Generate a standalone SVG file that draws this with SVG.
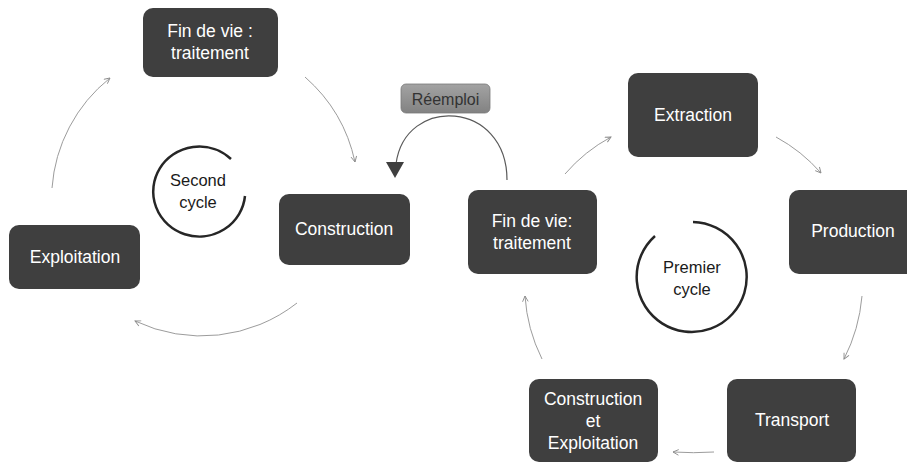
<svg xmlns="http://www.w3.org/2000/svg" width="907" height="464" viewBox="0 0 907 464">
<style>
.node{fill:#3f3f3f}
.nt{fill:#ffffff;font-family:"Liberation Sans",Arial,sans-serif;font-size:17.5px;text-anchor:middle}
.ct{fill:#1a1a1a;font-family:"Liberation Sans",Arial,sans-serif;font-size:16.5px;text-anchor:middle}
.conn{fill:none;stroke:#9c9c9c;stroke-width:1;marker-end:url(#open)}
.cyc{fill:none;stroke:#262626;stroke-width:2.5}
</style>
<defs>
<marker id="open" viewBox="0 0 10 10" refX="9" refY="5" markerWidth="7" markerHeight="7" markerUnits="userSpaceOnUse" orient="auto">
<path d="M1 1 L9 5 L1 9" fill="none" stroke="#8c8c8c" stroke-width="1.3"/>
</marker>
<linearGradient id="rg" x1="0" y1="0" x2="0" y2="1">
<stop offset="0" stop-color="#a3a3a3"/>
<stop offset="1" stop-color="#828282"/>
</linearGradient>
</defs>

<g id="connectors">
<path class="conn" d="M305 77 A157 157 0 0 1 355 162"/>
<path class="conn" d="M297 303 A155 155 0 0 1 135 321"/>
<path class="conn" d="M52 188 A155 155 0 0 1 110 78"/>
<path class="conn" d="M565 174 A162 162 0 0 1 611 137"/>
<path class="conn" d="M776 137 A163 163 0 0 1 821 173"/>
<path class="conn" d="M862 296 A170 170 0 0 1 844 359"/>
<path class="conn" d="M714 452 A300 300 0 0 1 673 452"/>
<path class="conn" d="M542 359 A165 165 0 0 1 525 296"/>
<path d="M507 180 C507 100 405 95 396 164" fill="none" stroke="#5a5a5a" stroke-width="1.2"/>
<polygon points="386,162 404,162 395,178" fill="#3f3f3f"/>
</g>

<g id="second-cycle">
<path class="cyc" d="M245 196 A46 45 0 1 1 231 159"/>
<text class="ct" x="198" y="186">Second</text>
<text class="ct" x="198" y="208">cycle</text>
</g>

<g id="premier-cycle">
<path class="cyc" d="M693 222 A55 55 0 1 1 655 236"/>
<text class="ct" x="692" y="273">Premier</text>
<text class="ct" x="692" y="295">cycle</text>
</g>

<g id="fin-de-vie-2">
<rect class="node" x="143" y="8" width="135" height="69" rx="10"/>
<text class="nt" x="210" y="37">Fin de vie :</text>
<text class="nt" x="210" y="59">traitement</text>
</g>

<g id="construction-2">
<rect class="node" x="279" y="194" width="131" height="71" rx="10"/>
<text class="nt" x="344" y="235">Construction</text>
</g>

<g id="exploitation-2">
<rect class="node" x="9" y="225" width="131" height="64" rx="10"/>
<text class="nt" x="75" y="263">Exploitation</text>
</g>

<g id="reemploi">
<rect x="401" y="84" width="89" height="29" rx="5" fill="url(#rg)" stroke="#7a7a7a" stroke-width="0.8"/>
<text x="445.5" y="104.5" fill="#333333" font-family="'Liberation Sans',Arial,sans-serif" font-size="16" text-anchor="middle">Réemploi</text>
</g>

<g id="fin-de-vie-1">
<rect class="node" x="468" y="190" width="129" height="84" rx="10"/>
<text class="nt" x="532" y="227">Fin de vie:</text>
<text class="nt" x="532" y="249">traitement</text>
</g>

<g id="extraction">
<rect class="node" x="628" y="73" width="130" height="84" rx="10"/>
<text class="nt" x="693" y="121">Extraction</text>
</g>

<g id="production">
<rect class="node" x="789" y="190" width="129" height="84" rx="10"/>
<text class="nt" x="853" y="237">Production</text>
</g>

<g id="transport">
<rect class="node" x="727" y="379" width="129" height="83" rx="10"/>
<text class="nt" x="792" y="426">Transport</text>
</g>

<g id="construction-exploitation">
<rect class="node" x="529" y="379" width="129" height="83" rx="10"/>
<text class="nt" x="593" y="405">Construction</text>
<text class="nt" x="593" y="427">et</text>
<text class="nt" x="593" y="449">Exploitation</text>
</g>
</svg>
